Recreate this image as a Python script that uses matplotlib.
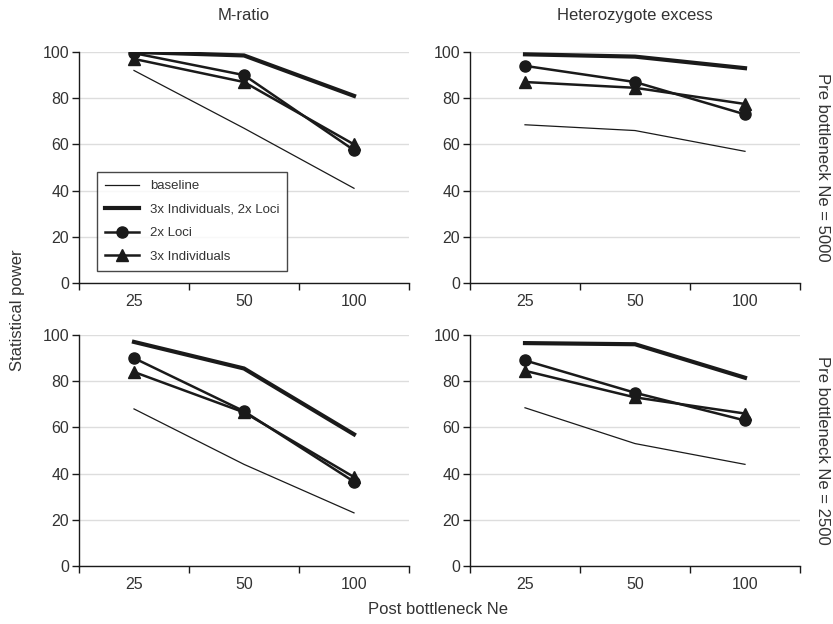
import numpy as np
import matplotlib.pyplot as plt
from matplotlib.ticker import FixedLocator, NullFormatter

plt.rcParams['font.family'] = ['Liberation Sans', 'DejaVu Sans']

post_ne = ['25', '50', '100']
series_names = ['baseline', '3x Individuals, 2x Loci', '2x Loci', '3x Individuals']

# M-ratio, pre bottleneck Ne = 5000
mr_5000_base = [92, 67, 41]
mr_5000_both = [100, 98.5, 81]
mr_5000_loci = [99.5, 90, 57.5]
mr_5000_ind = [97, 87, 60]

# Heterozygote excess, pre bottleneck Ne = 5000
he_5000_base = [68.5, 66, 57]
he_5000_both = [99, 98, 93]
he_5000_loci = [94, 87, 73]
he_5000_ind = [87, 84.5, 77.5]

# M-ratio, pre bottleneck Ne = 2500
mr_2500_base = [68, 44, 23]
mr_2500_both = [97, 85.5, 57]
mr_2500_loci = [90, 67, 36.5]
mr_2500_ind = [84, 66.5, 38.5]

# Heterozygote excess, pre bottleneck Ne = 2500
he_2500_base = [68.5, 53, 44]
he_2500_both = [96.5, 96, 81.5]
he_2500_loci = [89, 75, 63]
he_2500_ind = [84.5, 73, 66]

panels = [
    [(mr_5000_base, mr_5000_both, mr_5000_loci, mr_5000_ind),
     (he_5000_base, he_5000_both, he_5000_loci, he_5000_ind)],
    [(mr_2500_base, mr_2500_both, mr_2500_loci, mr_2500_ind),
     (he_2500_base, he_2500_both, he_2500_loci, he_2500_ind)],
]
col_titles = ['M-ratio', 'Heterozygote excess']
row_labels = ['Pre bottleneck Ne = 5000', 'Pre bottleneck Ne = 2500']

ink = '#1a1a1a'
txt = '#333333'
styles = [
    dict(lw=0.9, marker=None),
    dict(lw=3.0, marker=None),
    dict(lw=1.8, marker='o', ms=8),
    dict(lw=1.8, marker='^', ms=8),
]

fig = plt.figure(figsize=(8.33, 6.24), dpi=100)
lefts = [79 / 833, 470 / 833]
bottoms = [1 - 283 / 624, 1 - 566 / 624]
w = 330 / 833
h = 231 / 624

x = np.arange(len(post_ne))
for r in range(2):
    for c in range(2):
        ax = fig.add_axes([lefts[c], bottoms[r], w, h])
        for vals, name, st in zip(panels[r][c], series_names, styles):
            ax.plot(x, vals, color=ink, label=name, solid_joinstyle='miter', **st)
        ax.set_xlim(-0.5, 2.5)
        ax.set_ylim(0, 100)
        ax.set_yticks(range(0, 101, 20))
        ax.yaxis.grid(True, color='#dddddd', lw=1)
        ax.set_axisbelow(True)
        ax.xaxis.set_major_locator(FixedLocator([-0.5, 0.5, 1.5, 2.5]))
        ax.xaxis.set_major_formatter(NullFormatter())
        ax.xaxis.set_minor_locator(FixedLocator(x))
        ax.set_xticklabels(post_ne, minor=True)
        ax.tick_params(axis='x', which='minor', length=0, pad=8, labelsize=11.5, labelcolor=txt)
        ax.tick_params(axis='x', which='major', length=5, width=1, color=ink)
        ax.tick_params(axis='y', length=5, width=1, color=ink, labelsize=11.5, labelcolor=txt, pad=2)
        for s in ['top', 'right']:
            ax.spines[s].set_visible(False)
        for s in ['left', 'bottom']:
            ax.spines[s].set_color(ink)
            ax.spines[s].set_linewidth(1)
        if r == 0:
            ax.set_title(col_titles[c], fontsize=12, color=txt, pad=23)
        if c == 1:
            ax.text(1.045, 0.5, row_labels[r], transform=ax.transAxes, rotation=-90,
                    ha='left', va='center', fontsize=12, color=txt)
        if r == 0 and c == 0:
            leg = ax.legend(loc='lower left', bbox_to_anchor=(0.035, 0.025), fontsize=9.5,
                            frameon=True, fancybox=False, handlelength=2.6,
                            borderpad=0.6, labelspacing=0.85, handletextpad=0.8)
            leg.get_frame().set_edgecolor(ink)
            leg.get_frame().set_linewidth(1)
            for t in leg.get_texts():
                t.set_color(txt)

fig.text(18 / 833, 1 - 310 / 624, 'Statistical power', rotation=90, ha='center', va='center',
         fontsize=12, color=txt)
fig.text(438 / 833, 1 - 610 / 624, 'Post bottleneck Ne', ha='center', va='center',
         fontsize=12, color=txt)

fig.savefig('out.png', dpi=100)
